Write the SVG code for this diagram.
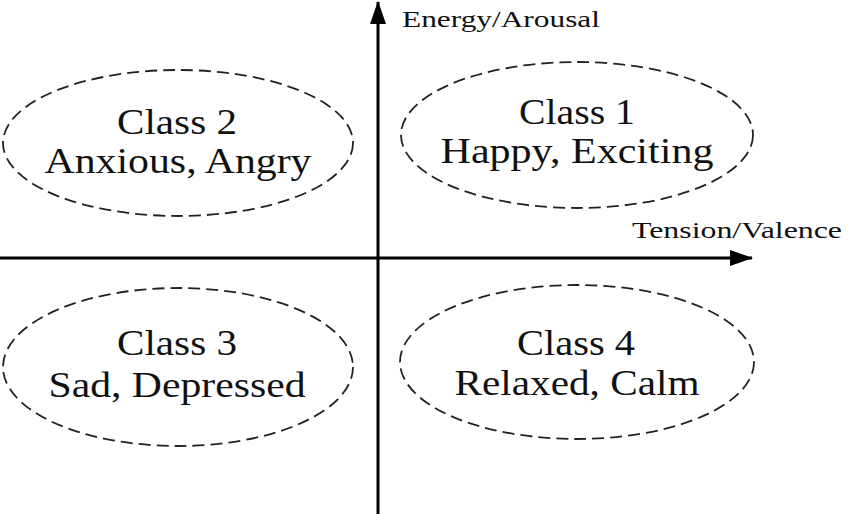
<svg xmlns="http://www.w3.org/2000/svg" width="850" height="514" viewBox="0 0 850 514">
<style>
.cls{fill:none;stroke:#222;stroke-width:1.8;stroke-dasharray:12 6}
text{font-family:'Liberation Serif','Times New Roman',Tinos,'Nimbus Roman',serif;fill:#111}
.t{text-anchor:middle;font-size:35px}
.ax{font-size:24px}
.axis{stroke:#000;stroke-width:3;fill:none}
</style>
<defs>
<marker id="arr" markerUnits="userSpaceOnUse" markerWidth="24" markerHeight="18" refX="22" refY="8" orient="auto">
<path d="M0,0 L23,8 L0,16 z" fill="#000"/>
</marker>
</defs>
<rect width="850" height="514" fill="#fff"/>
<g id="connectors">
<line class="axis" x1="0" y1="258" x2="752" y2="258" marker-end="url(#arr)"/>
<line class="axis" x1="378" y1="514" x2="378" y2="2" marker-end="url(#arr)"/>
</g>
<g id="class1">
<ellipse class="cls" cx="577" cy="135" rx="176" ry="73"/>
<text class="t" x="577" y="124" textLength="116" lengthAdjust="spacingAndGlyphs">Class 1</text>
<text class="t" x="577" y="163" textLength="273" lengthAdjust="spacingAndGlyphs">Happy, Exciting</text>
</g>
<g id="class2">
<ellipse class="cls" cx="178" cy="143" rx="175" ry="73"/>
<text class="t" x="177" y="134" textLength="120" lengthAdjust="spacingAndGlyphs">Class 2</text>
<text class="t" x="178" y="173" textLength="267" lengthAdjust="spacingAndGlyphs">Anxious, Angry</text>
</g>
<g id="class3">
<ellipse class="cls" cx="178" cy="367" rx="175" ry="79"/>
<text class="t" x="177" y="355" textLength="120" lengthAdjust="spacingAndGlyphs">Class 3</text>
<text class="t" x="177" y="397" textLength="257" lengthAdjust="spacingAndGlyphs">Sad, Depressed</text>
</g>
<g id="class4">
<ellipse class="cls" cx="577" cy="362" rx="177" ry="77"/>
<text class="t" x="576" y="355" textLength="118" lengthAdjust="spacingAndGlyphs">Class 4</text>
<text class="t" x="577" y="395" textLength="245" lengthAdjust="spacingAndGlyphs">Relaxed, Calm</text>
</g>
<g id="axis-labels">
<text class="ax" x="402" y="27" textLength="198" lengthAdjust="spacingAndGlyphs">Energy/Arousal</text>
<text class="ax" x="632" y="238" textLength="210" lengthAdjust="spacingAndGlyphs">Tension/Valence</text>
</g>
</svg>
